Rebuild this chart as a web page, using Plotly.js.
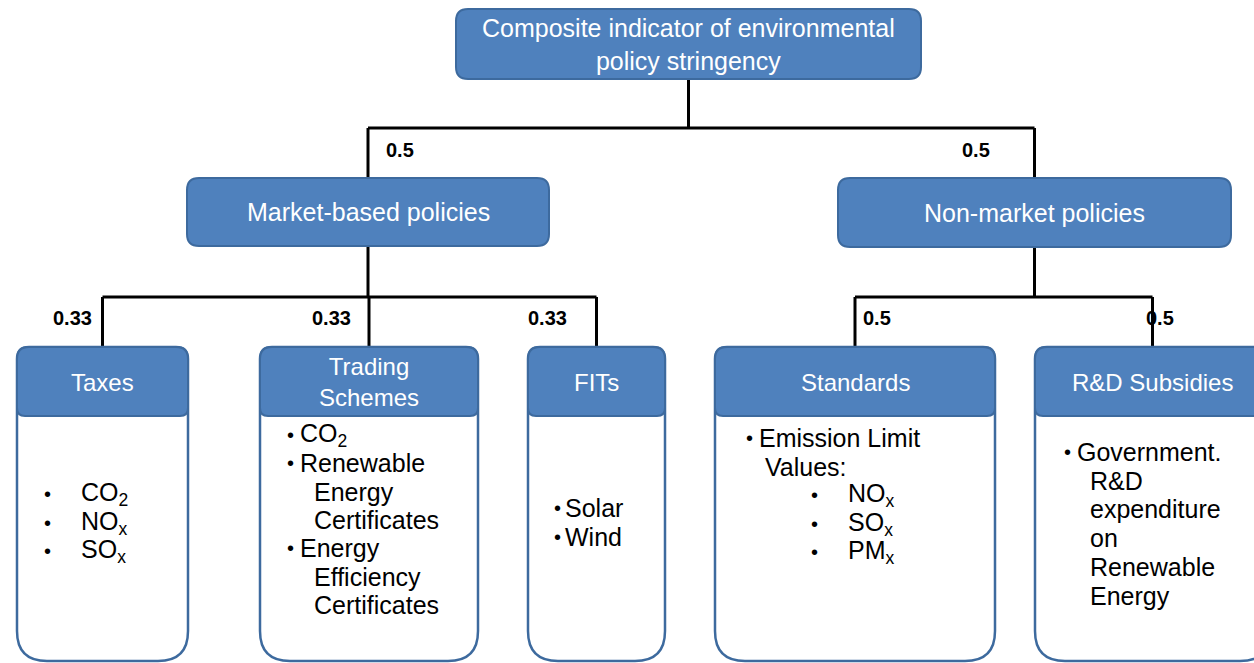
<!DOCTYPE html>
<html>
<head>
<meta charset="utf-8">
<script src="https://cdn.plot.ly/plotly-3.0.1.min.js"></script>
<style>html,body{margin:0;padding:0;background:#fff;}#chart{width:1254px;height:663px;}</style>
</head>
<body>
<div id="chart"></div>
<script>
// ---------------- DATA ----------------
const rootLabel = "Composite indicator of environmental<br>policy stringency";
const groupLabels = ["Market-based policies", "Non-market policies"];
const groupWeights = ["0.5", "0.5"];
const policyLabels = ["Taxes", "Trading<br>Schemes", "FITs", "Standards", "R&amp;D Subsidies"];
const policyParent = [0, 0, 0, 1, 1];
const policyWeights = ["0.33", "0.33", "0.33", "0.5", "0.5"];
// "* " = bullet line, "  " = continuation, "** " = sub-bullet
const taxesItems = ["* CO<sub>2</sub>", "* NO<sub>x</sub>", "* SO<sub>x</sub>"];
const tradingItems = ["* CO<sub>2</sub>", "* Renewable", "  Energy", "  Certificates", "* Energy", "  Efficiency", "  Certificates"];
const fitsItems = ["* Solar", "* Wind"];
const standardsItems = ["* Emission Limit", "  Values:", "** NO<sub>x</sub>", "** SO<sub>x</sub>", "** PM<sub>x</sub>"];
const rdItems = ["* Government.", "  R&amp;D", "  expenditure", "  on", "  Renewable", "  Energy"];
const policyItems = [taxesItems, tradingItems, fitsItems, standardsItems, rdItems];

// ---------------- LAYOUT / STYLE ----------------
const FONT = "Liberation Sans, Arial, Helvetica, sans-serif";
const BLUE = "#4f81bd", BLUE_EDGE = "#3d6a9e", LINE = "#000";
const rootBox = {x0: 456, x1: 921, y0: 9, y1: 79, ty: 44};
const groupBoxes = [{x0: 187, x1: 549, y0: 178, y1: 246}, {x0: 838, x1: 1231, y0: 178, y1: 247}];
const groupBarY = 128;
const policyBarY = 297;
const policyCols = [[17, 188], [260, 478], [528, 665], [715, 995], [1035, 1270]];
const headTop = 347, headBot = 416, bodyBot = 661;
const groupWeightPos = [[400, 150], [976, 150]];
const policyWeightPos = [[72, 318], [331, 318], [547, 318], [877, 318], [1160, 318]];
const headTextY = [382, 382, 382, 382, 382];
const bodyCfg = [
  {bx: 42, tx: 79, cx: 79, sbx: 0, stx: 0, y0: 494, dy: 28.5},
  {bx: 285, tx: 298, cx: 312, sbx: 0, stx: 0, y0: 435, dy: 28.3},
  {bx: 552, tx: 563, cx: 563, sbx: 0, stx: 0, y0: 508, dy: 29},
  {bx: 744, tx: 757, cx: 763, sbx: 809, stx: 846, y0: 438, dy: 28.5},
  {bx: 1062, tx: 1075, cx: 1088, sbx: 0, stx: 0, y0: 452, dy: 28.7}
];

function rrect(x0, y0, x1, y1, rt, rb) {
  return `M ${x0 + rt},${y0} L ${x1 - rt},${y0} Q ${x1},${y0} ${x1},${y0 + rt} ` +
         `L ${x1},${y1 - rb} Q ${x1},${y1} ${x1 - rb},${y1} L ${x0 + rb},${y1} ` +
         `Q ${x0},${y1} ${x0},${y1 - rb} L ${x0},${y0 + rt} Q ${x0},${y0} ${x0 + rt},${y0} Z`;
}
const shapes = [], ann = [];
function line(x0, y0, x1, y1) {
  shapes.push({type: "line", xref: "x", yref: "y", x0, y0, x1, y1, line: {color: LINE, width: 3}});
}
function blueBox(b, r) {
  shapes.push({type: "path", xref: "x", yref: "y", path: rrect(b.x0, b.y0, b.x1, b.y1, r, r),
    fillcolor: BLUE, line: {color: BLUE_EDGE, width: 2}});
}
function text(x, y, t, size, color, xanchor, bold) {
  ann.push({x, y, xref: "x", yref: "y", text: bold ? "<b>" + t + "</b>" : t, showarrow: false,
    xanchor: xanchor || "center", yanchor: "middle", align: xanchor || "center",
    font: {family: FONT, size, color}});
}
const cx = b => (b.x0 + b.x1) / 2;

// connectors
const rootC = cx(rootBox);
line(rootC, rootBox.y1, rootC, groupBarY);
line(cx(groupBoxes[0]), groupBarY, cx(groupBoxes[1]), groupBarY);
groupBoxes.forEach(g => line(cx(g), groupBarY, cx(g), g.y0));
const pcx = policyCols.map(c => (c[0] + c[1]) / 2);
groupBoxes.forEach((g, gi) => {
  const kids = pcx.filter((_, i) => policyParent[i] === gi);
  line(cx(g), g.y1, cx(g), policyBarY);
  line(Math.min(...kids), policyBarY, Math.max(...kids), policyBarY);
  kids.forEach(k => line(k, policyBarY, k, headTop));
});

// root & group boxes
blueBox(rootBox, 12);
text(rootC, rootBox.ty, rootLabel, 25, "#fff");
groupBoxes.forEach((g, i) => {
  blueBox(g, 12);
  text(cx(g), (g.y0 + g.y1) / 2, groupLabels[i], 25, "#fff");
  text(groupWeightPos[i][0], groupWeightPos[i][1], groupWeights[i], 20, "#000", "center", true);
});

// policy boxes
policyCols.forEach((c, i) => {
  shapes.push({type: "path", xref: "x", yref: "y", path: rrect(c[0], headTop, c[1], bodyBot, 12, 30),
    fillcolor: "#fff", line: {color: BLUE_EDGE, width: 2.5}});
  shapes.push({type: "path", xref: "x", yref: "y", path: rrect(c[0], headTop, c[1], headBot, 12, 8),
    fillcolor: BLUE, line: {color: BLUE_EDGE, width: 2}});
  text((c[0] + c[1]) / 2, headTextY[i], policyLabels[i], 24, "#fff");
  text(policyWeightPos[i][0], policyWeightPos[i][1], policyWeights[i], 20, "#000", "center", true);
  const cfg = bodyCfg[i];
  policyItems[i].forEach((s, j) => {
    const y = cfg.y0 + j * cfg.dy;
    if (s.startsWith("** ")) {
      text(cfg.sbx, y, "•", 20, "#000", "left");
      text(cfg.stx, y, s.slice(3), 25, "#000", "left");
    } else if (s.startsWith("* ")) {
      text(cfg.bx, y, "•", 20, "#000", "left");
      text(cfg.tx, y, s.slice(2), 25, "#000", "left");
    } else {
      text(cfg.cx, y, s.slice(2), 25, "#000", "left");
    }
  });
});

const layout = {
  width: 1254, height: 663, margin: {l: 0, r: 0, t: 0, b: 0},
  paper_bgcolor: "#fff", plot_bgcolor: "#fff", showlegend: false,
  xaxis: {range: [0, 1254], visible: false, fixedrange: true},
  yaxis: {range: [663, 0], visible: false, fixedrange: true},
  shapes, annotations: ann
};
Plotly.newPlot("chart", [], layout, {displayModeBar: false, staticPlot: true});
</script>
</body>
</html>
